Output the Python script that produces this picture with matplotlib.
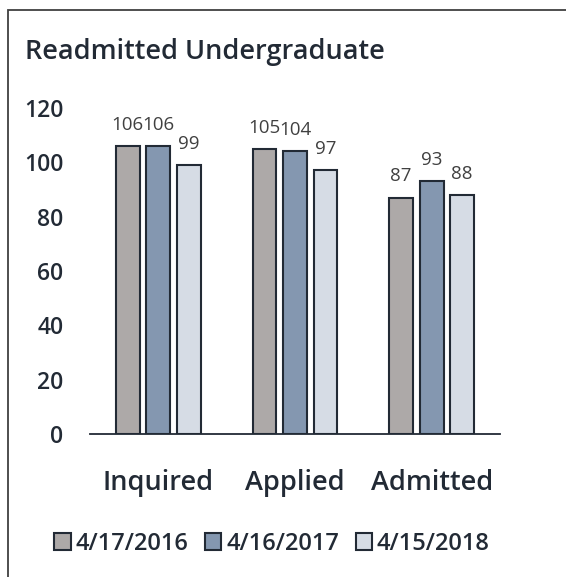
import matplotlib
matplotlib.use('Agg')
import matplotlib.pyplot as plt
import numpy as np
from matplotlib.patches import Rectangle

categories = ['Inquired', 'Applied', 'Admitted']
series = ['4/17/2016', '4/16/2017', '4/15/2018']
v2016 = [106, 105, 87]
v2017 = [106, 104, 93]
v2018 = [99, 97, 88]
colors = ['#ADA9A8', '#8497B0', '#D6DCE5']
edge = '#222A35'
ink = '#222A35'

plt.rcParams['font.family'] = ['Open Sans', 'DejaVu Sans']

fig = plt.figure(figsize=(5.66, 5.77), dpi=100)
# outer frame
fig.patches.append(Rectangle((8 / 566, -0.05), 1.2, 1 - 10 / 577 + 0.05,
                             transform=fig.transFigure, fill=False,
                             edgecolor='#404040', linewidth=1.3))

ax = fig.add_axes([90 / 566, 1 - 434 / 577, 410 / 566, 326 / 577])
x = np.arange(len(categories))
w = 0.175
step = 0.223
for i, (vals, c, name) in enumerate(zip([v2016, v2017, v2018], colors, series)):
    bars = ax.bar(x + (i - 1) * step, vals, w, color=c, edgecolor=edge,
                  linewidth=1.5, label=name)
    for b, v in zip(bars, vals):
        ax.text(b.get_x() + b.get_width() / 2, v + 4.5, str(v), ha='center',
                va='bottom', fontsize=13.5, color='#404040')

ax.set_xlim(-0.5, 2.5)
ax.set_ylim(0, 120)
ax.set_yticks(range(0, 121, 20))
ax.set_xticks(x)
ax.set_xticklabels(categories, fontsize=19.5, fontweight='semibold', color=ink)
for lab in ax.get_yticklabels():
    lab.set_fontsize(16.5)
    lab.set_fontweight('semibold')
    lab.set_color(ink)
ax.tick_params(axis='both', length=0)
ax.tick_params(axis='y', pad=19)
ax.tick_params(axis='x', pad=25)
for s in ['top', 'right', 'left']:
    ax.spines[s].set_visible(False)
ax.spines['bottom'].set_color(ink)
ax.spines['bottom'].set_linewidth(1.3)

fig.text(25 / 566, 1 - 52 / 577, 'Readmitted Undergraduate', fontsize=19.5,
         fontweight='semibold', color=ink, va='center', ha='left')

leg = fig.legend(loc='center', bbox_to_anchor=(272 / 566, 1 - 544 / 577), ncol=3,
                 frameon=False, handlelength=0.7, handleheight=0.7,
                 handletextpad=0.2, columnspacing=0.7,
                 prop={'size': 17, 'weight': 'semibold'})
for t in leg.get_texts():
    t.set_color(ink)

fig.savefig('out.png', dpi=100)
